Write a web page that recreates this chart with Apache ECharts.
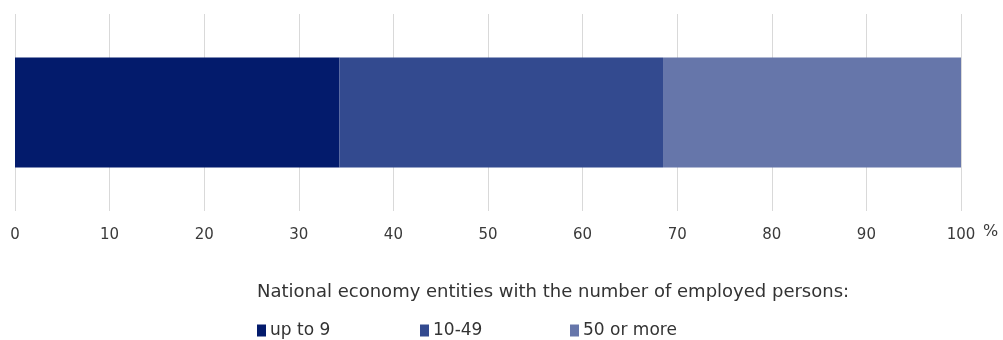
<!DOCTYPE html>
<html>
<head>
<meta charset="utf-8">
<script src="https://cdn.jsdelivr.net/npm/echarts@6/dist/echarts.min.js"></script>
<style>html,body{margin:0;padding:0;background:#fff}#c{width:1003px;height:340px}</style>
</head>
<body>
<div id="c"></div>
<script>
const categories = ['2023'];
const seriesNames = ['up to 9', '10-49', '50 or more'];
const upTo9 = [34.3];
const from10to49 = [34.2];
const over50 = [31.5];
const xTicks = [0, 10, 20, 30, 40, 50, 60, 70, 80, 90, 100];
const legendTitle = 'National economy entities with the number of employed persons:';
const unitLabel = '%';

const colors = ['#031b6c', '#334a8f', '#6676aa'];
const font = '"DejaVu Sans", "Open Sans", sans-serif';
const values = [upTo9, from10to49, over50];
const legendLefts = [257, 420, 570];

const chart = echarts.init(document.getElementById('c'), null, {renderer: 'canvas'});
chart.setOption({
  animation: false,
  color: colors,
  grid: {left: 15, right: 42, top: 14, bottom: 129, containLabel: false},
  xAxis: {
    type: 'value', min: xTicks[0], max: xTicks[xTicks.length - 1], interval: 10,
    axisLine: {show: false}, axisTick: {show: false},
    splitLine: {show: true, lineStyle: {color: '#d9d9d9', width: 1}},
    axisLabel: {margin: 17, color: '#3a3a3a', fontSize: 15, fontFamily: font}
  },
  yAxis: {
    type: 'category', data: categories, show: false
  },
  legend: [0, 1, 2].map(i => ({
    data: [seriesNames[i]], left: legendLefts[i], top: 322, padding: 0,
    icon: 'rect', itemWidth: 9, itemHeight: 12, itemGap: 0,
    textStyle: {color: '#333', fontSize: 17, fontFamily: font, padding: [0, 0, 0, -1]}
  })),
  graphic: [
    {type: 'text', left: 257, top: 283, style: {text: legendTitle, fill: '#333', fontSize: 18, fontFamily: font}},
    {type: 'text', left: 983, top: 224, style: {text: unitLabel, fill: '#3a3a3a', fontSize: 16, fontFamily: font}}
  ],
  series: values.map((v, i) => ({
    name: seriesNames[i], type: 'bar', stack: 'total', data: v, barWidth: 110,
    itemStyle: {color: colors[i]}
  }))
});
</script>
</body>
</html>
